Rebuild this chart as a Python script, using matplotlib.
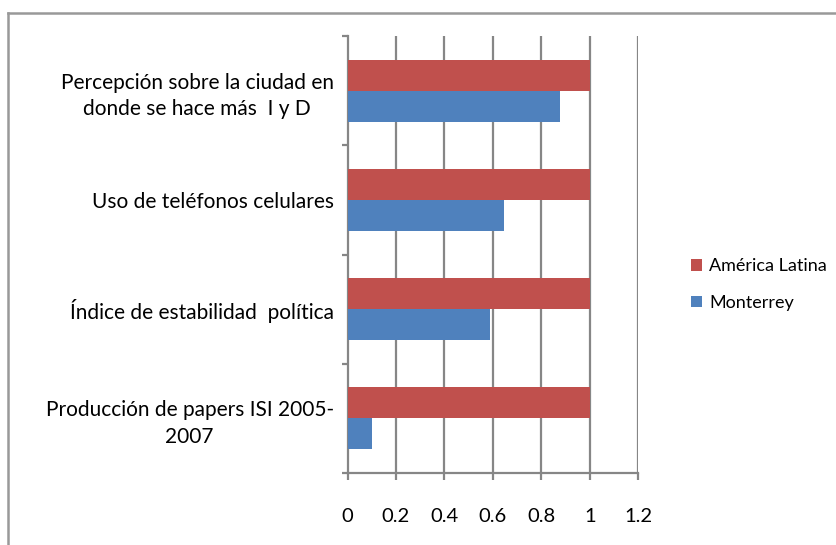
import matplotlib.pyplot as plt
import numpy as np

categorias = ['Producción de papers ISI 2005-\n2007',
              'Índice de estabilidad  política',
              'Uso de teléfonos celulares',
              'Percepción sobre la ciudad en\ndonde se hace más  I y D']
america_latina = [1, 1, 1, 1]
monterrey = [0.1, 0.59, 0.645, 0.875]
xticks = [0, 0.2, 0.4, 0.6, 0.8, 1, 1.2]
xticklabels = ['0', '0.2', '0.4', '0.6', '0.8', '1', '1.2']

plt.rcParams['font.family'] = ['Lato', 'DejaVu Sans']
gris = '#868686'

fig = plt.figure(figsize=(8.37, 5.45), dpi=100)
ax = fig.add_axes([0.4152, 0.1321, 0.3474, 0.8018])

y = np.arange(len(categorias))
h = 0.284
ax.barh(y + h / 2, america_latina, height=h, color='#C0504D', label='América Latina', zorder=3)
ax.barh(y - h / 2, monterrey, height=h, color='#4F81BD', label='Monterrey', zorder=3)

ax.set_xlim(0, 1.2)
ax.set_ylim(-0.5, 3.5)

# grid lines
ax.set_xticks(xticks)
ax.set_xticklabels(xticklabels, fontsize=14.5)
for xv in xticks[1:]:
    ax.axvline(xv, color=gris, lw=1.6, zorder=1)

# category labels centered on each band, ticks on band boundaries
ax.set_yticks(np.arange(-0.5, 4, 1))
ax.set_yticklabels([])
ax.set_yticks(y, minor=True)
ax.set_yticklabels(categorias, minor=True, fontsize=15, ha='right',
                   multialignment='center', linespacing=1.4)
ax.tick_params(axis='y', which='minor', length=0, pad=10)
ax.tick_params(axis='y', which='major', length=4, width=1.6, color=gris, direction='out')
ax.tick_params(axis='x', length=5, width=1.6, color=gris, direction='out', pad=20)

for s in ['top', 'right']:
    ax.spines[s].set_visible(False)
for s in ['left', 'bottom']:
    ax.spines[s].set_color(gris)
    ax.spines[s].set_linewidth(1.6)

leg = fig.legend(loc='upper left', bbox_to_anchor=(0.806, 0.556), frameon=False,
                 fontsize=13, handlelength=0.6, handleheight=0.6,
                 handletextpad=0.4, labelspacing=1.15)

# outer frame (left and top only visible in the crop)
fig.add_artist(plt.Line2D([0.0095, 0.0095], [0, 0.977], color='#999999', lw=1.8))
fig.add_artist(plt.Line2D([0.0095, 1], [0.977, 0.977], color='#999999', lw=1.8))

fig.savefig('out.png', dpi=100)
